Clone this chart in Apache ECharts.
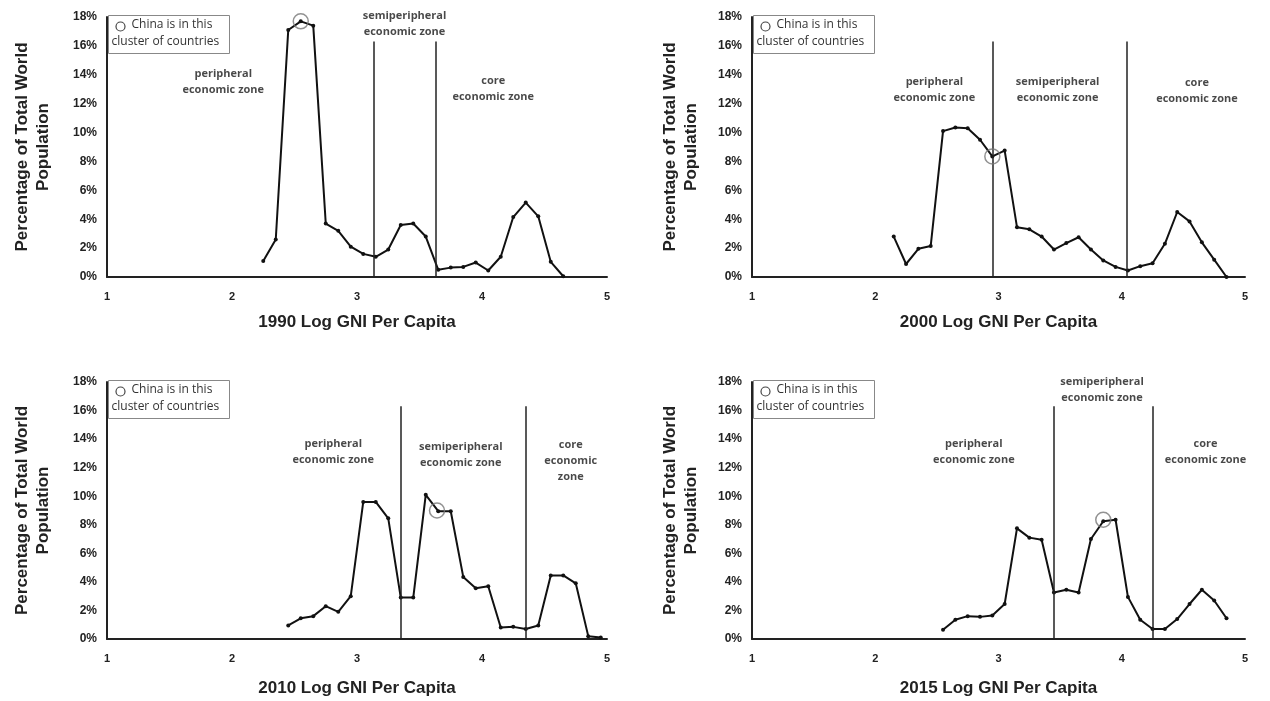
<!DOCTYPE html>
<html>
<head>
<meta charset="utf-8">
<script src="https://cdn.jsdelivr.net/npm/echarts@6/dist/echarts.min.js"></script>
<style>
html,body{margin:0;padding:0;background:#fff;}
#chart{width:1270px;height:701px;}
</style>
</head>
<body>
<div id="chart"></div>
<script>
// ---- data ----
const years = ['1990', '2000', '2010', '2015'];

const x1990 = [2.25,2.35,2.45,2.55,2.65,2.75,2.85,2.95,3.05,3.15,3.25,3.35,3.45,3.55,3.65,3.75,3.85,3.95,4.05,4.15,4.25,4.35,4.45,4.55,4.65];
const y1990 = [1.1,2.6,17.1,17.7,17.4,3.7,3.2,2.1,1.6,1.4,1.9,3.6,3.7,2.8,0.5,0.65,0.7,1.0,0.45,1.4,4.15,5.15,4.2,1.05,0.05];

const x2000 = [2.15,2.25,2.35,2.45,2.55,2.65,2.75,2.85,2.95,3.05,3.15,3.25,3.35,3.45,3.55,3.65,3.75,3.85,3.95,4.05,4.15,4.25,4.35,4.45,4.55,4.65,4.75,4.85];
const y2000 = [2.8,0.9,1.95,2.15,10.1,10.35,10.3,9.5,8.35,8.75,3.45,3.3,2.8,1.9,2.35,2.75,1.9,1.15,0.7,0.45,0.75,0.95,2.3,4.5,3.85,2.4,1.2,0];

const x2010 = [2.45,2.55,2.65,2.75,2.85,2.95,3.05,3.15,3.25,3.35,3.45,3.55,3.65,3.75,3.85,3.95,4.05,4.15,4.25,4.35,4.45,4.55,4.65,4.75,4.85,4.95];
const y2010 = [0.95,1.45,1.6,2.3,1.9,3.0,9.6,9.6,8.45,2.9,2.9,10.1,8.95,8.95,4.35,3.55,3.7,0.8,0.85,0.7,0.95,4.45,4.45,3.9,0.2,0.1];

const x2015 = [2.55,2.65,2.75,2.85,2.95,3.05,3.15,3.25,3.35,3.45,3.55,3.65,3.75,3.85,3.95,4.05,4.15,4.25,4.35,4.45,4.55,4.65,4.75,4.85];
const y2015 = [0.65,1.35,1.6,1.55,1.65,2.45,7.75,7.1,6.95,3.25,3.45,3.25,7.0,8.25,8.35,2.95,1.35,0.7,0.7,1.4,2.45,3.45,2.7,1.45];

// China cluster marker [x, y]
const china1990 = [2.55, 17.7];
const china2000 = [2.95, 8.35];
const china2010 = [3.64, 9.0];
const china2015 = [3.85, 8.35];

// zone boundaries (log GNI per capita)
const bounds1990 = [3.13, 3.63];
const bounds2000 = [2.95, 4.04];
const bounds2010 = [3.35, 4.35];
const bounds2015 = [3.45, 4.25];
const boundTop = 16.3;

// zone labels: [x, y, text]
const zones1990 = [[1.93, 13.5, 'peripheral\neconomic zone'], [3.38, 17.55, 'semiperipheral\neconomic zone'], [4.09, 13.0, 'core\neconomic zone']];
const zones2000 = [[2.48, 12.95, 'peripheral\neconomic zone'], [3.48, 12.95, 'semiperipheral\neconomic zone'], [4.61, 12.9, 'core\neconomic zone']];
const zones2010 = [[2.81, 13.1, 'peripheral\neconomic zone'], [3.83, 12.9, 'semiperipheral\neconomic zone'], [4.71, 12.5, 'core\neconomic\nzone']];
const zones2015 = [[2.80, 13.1, 'peripheral\neconomic zone'], [3.84, 17.45, 'semiperipheral\neconomic zone'], [4.68, 13.1, 'core\neconomic zone']];

const yTicks = [0, 2, 4, 6, 8, 10, 12, 14, 16, 18];
const xTicks = [1, 2, 3, 4, 5];
const yTitle = 'Percentage of Total World\nPopulation';
const legendText = 'China is in this';
const legendText2 = 'cluster of countries';

// ---- assembly ----
const xs = [x1990, x2000, x2010, x2015];
const ys = [y1990, y2000, y2010, y2015];
const chinas = [china1990, china2000, china2010, china2015];
const bounds = [bounds1990, bounds2000, bounds2010, bounds2015];
const zones = [zones1990, zones2000, zones2010, zones2015];

const grids = [
  {left: 107, top: 17, width: 500, height: 260},
  {left: 752, top: 17, width: 493, height: 260},
  {left: 107, top: 382, width: 500, height: 257},
  {left: 752, top: 382, width: 493, height: 257}
];
const xNameGaps = [37, 37, 41, 41];
const yNameGaps = [53, 50, 53, 50];

const boldFont = '"Liberation Sans", Arial, sans-serif';
const softFont = '"Open Sans", "Noto Sans", sans-serif';

const xAxes = [], yAxes = [], series = [], graphics = [];
grids.forEach((g, i) => {
  xAxes.push({
    type: 'value', gridIndex: i, min: xTicks[0], max: xTicks[xTicks.length - 1], interval: 1,
    name: years[i] + ' Log GNI Per Capita', nameLocation: 'middle', nameGap: xNameGaps[i],
    nameTextStyle: {fontFamily: boldFont, fontWeight: 'bold', fontSize: 17, color: '#222'},
    axisLine: {show: true, onZero: false, lineStyle: {color: '#222', width: 2}},
    axisTick: {show: false}, splitLine: {show: false},
    axisLabel: {fontFamily: boldFont, fontWeight: 'bold', fontSize: 11, color: '#222', margin: 14}
  });
  yAxes.push({
    type: 'value', gridIndex: i, min: yTicks[0], max: yTicks[yTicks.length - 1], interval: 2,
    name: yTitle, nameLocation: 'middle', nameGap: yNameGaps[i],
    nameTextStyle: {fontFamily: boldFont, fontWeight: 'bold', fontSize: 17, color: '#222', lineHeight: 21},
    axisLine: {show: true, lineStyle: {color: '#222', width: 2}},
    axisTick: {show: false}, splitLine: {show: false},
    axisLabel: {formatter: '{value}%', fontFamily: boldFont, fontWeight: 'bold', fontSize: 12, color: '#222', margin: 10}
  });
  series.push({
    type: 'line', xAxisIndex: i, yAxisIndex: i,
    data: xs[i].map((x, k) => [x, ys[i][k]]),
    symbol: 'circle', symbolSize: 4, showSymbol: true,
    itemStyle: {color: '#111'}, lineStyle: {color: '#111', width: 2},
    silent: true, z: 3,
    markLine: {
      silent: true, symbol: 'none', label: {show: false},
      lineStyle: {color: '#222', width: 1.5, type: 'solid'},
      data: bounds[i].map(b => [{coord: [b, 0]}, {coord: [b, boundTop]}])
    }
  });
  series.push({
    type: 'scatter', xAxisIndex: i, yAxisIndex: i,
    data: [chinas[i]], symbol: 'circle', symbolSize: 15,
    itemStyle: {color: 'rgba(0,0,0,0)', borderColor: '#777', borderWidth: 1.5},
    silent: true, z: 5
  });
  series.push({
    type: 'scatter', xAxisIndex: i, yAxisIndex: i,
    data: zones[i].map(z => ({value: [z[0], z[1]], name: z[2]})),
    symbolSize: 0, silent: true, z: 4,
    label: {show: true, position: 'inside', formatter: p => p.name,
      fontFamily: softFont, fontWeight: 'bold', fontSize: 11, lineHeight: 16, color: '#1a1a1a'}
  });
  // legend box
  const bx = g.left + 1, by = g.top - 2;
  graphics.push({
    type: 'group', left: bx, top: by, children: [
      {type: 'rect', shape: {x: 0, y: 0, width: 121, height: 38},
        style: {fill: '#fff', stroke: '#888', lineWidth: 1}},
      {type: 'circle', shape: {cx: 12, cy: 11, r: 4.5},
        style: {fill: 'none', stroke: '#444', lineWidth: 1.2}},
      {type: 'text', x: 23, y: 3, style: {text: legendText, fontFamily: softFont, fontSize: 12, fill: '#333'}},
      {type: 'text', x: 3, y: 20, style: {text: legendText2, fontFamily: softFont, fontSize: 12, fill: '#333'}}
    ]
  });
});

const chart = echarts.init(document.getElementById('chart'), null, {renderer: 'canvas'});
chart.setOption({
  backgroundColor: '#fff',
  animation: false,
  grid: grids,
  xAxis: xAxes,
  yAxis: yAxes,
  series: series,
  graphic: graphics
});
</script>
</body>
</html>
